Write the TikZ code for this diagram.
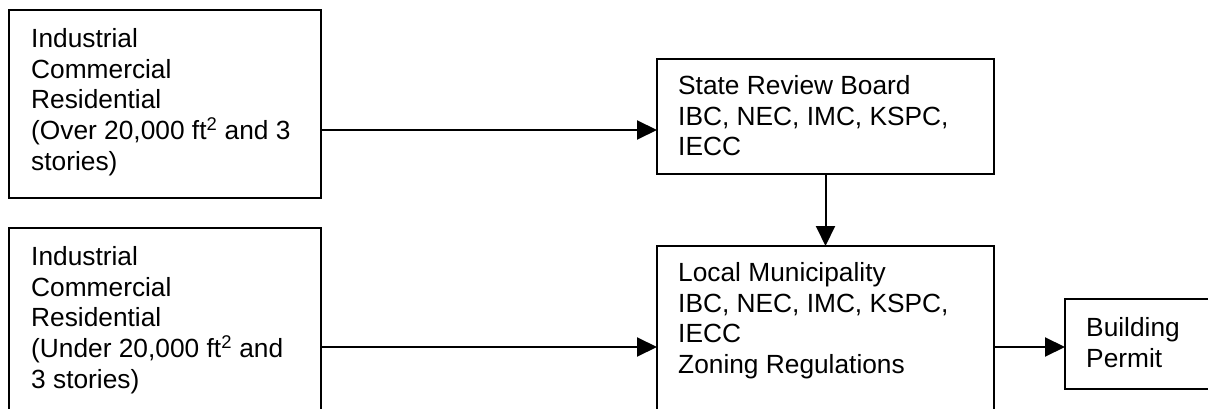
\documentclass[tikz,border=0pt]{standalone}
\usepackage{fontspec}
\setmainfont{Liberation Sans}
\usetikzlibrary{arrows.meta}
\begin{document}
\begin{tikzpicture}[x=1pt,y=-1pt,
  box/.style={draw, line width=2pt, rectangle, inner sep=0pt, outer sep=0pt, anchor=north west},
  lbl/.style={anchor=north west, inner sep=0pt, align=left, font=\fontsize{26.3}{30.8}\selectfont},
  arr/.style={line width=2pt, -{Triangle[length=20pt,width=19pt]}}]
\useasboundingbox (0,0) rectangle (1208,409);
\clip (0,0) rectangle (1208,409);

% boxes
\node[box, minimum width=312, minimum height=188] (big) at (9,10) {};
\node[box, minimum width=312, minimum height=230] (small) at (9,228) {};
\node[box, minimum width=337, minimum height=115] (state) at (657,59) {};
\node[box, minimum width=337, minimum height=210] (local) at (657,246) {};
\node[box, minimum width=155, minimum height=90] (permit) at (1065,299) {};

% texts
\node[lbl] (tbig) at (31,28) {Industrial\\Commercial\\Residential\\(Over 20,000 ft\textsuperscript{2} and 3\\stories)};
\node[lbl] (tsmall) at (31,246) {Industrial\\Commercial\\Residential\\(Under 20,000 ft\textsuperscript{2} and\\3 stories)};
\node[lbl] (tstate) at (678,75) {State Review Board\\IBC, NEC, IMC, KSPC,\\IECC};
\node[lbl] (tlocal) at (678,262) {Local Municipality\\IBC, NEC, IMC, KSPC,\\IECC\\Zoning Regulations};
\node[lbl] (tpermit) at (1086,317) {Building\\Permit};

% connectors
\coordinate (ytop) at (0,130);
\coordinate (ylow) at (0,347);
\draw[arr] (big.east |- ytop) -- (state.west |- ytop);
\draw[arr] (state.south) -- (local.north);
\draw[arr] (small.east |- ylow) -- (local.west |- ylow);
\draw[arr] (local.east |- ylow) -- (permit.west |- ylow);
\end{tikzpicture}
\end{document}
